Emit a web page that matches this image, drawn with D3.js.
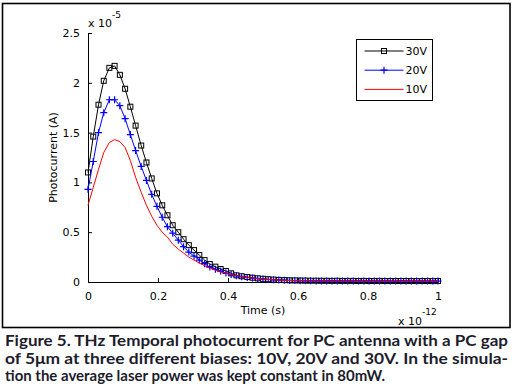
<!DOCTYPE html>
<html lang="en">
<head>
   <meta charset="UTF-8">
   <title>THz Temporal photocurrent</title>
   <style>
      html, body {
         margin: 0;
         padding: 0;
         background: #fff;
         overflow: hidden;
      }
      text {
         font-family: 'DejaVu Sans', sans-serif;
         font-size: 11px;
         fill: #000;
      }
      .caption {
         font-family: Lato, 'DejaVu Sans', sans-serif;
         font-weight: bold;
         font-size: 15px;
         fill: #1c1c2c;
      }
   </style>
   <script src="https://cdn.jsdelivr.net/npm/d3@7"></script>
</head>
<body>
   <svg id="chart" width="512" height="387"></svg>
   <script>
      // time axis (units of 1e-12 s)
      const time = [0, 0.015, 0.030, 0.045, 0.061, 0.076, 0.091, 0.106, 0.121, 0.136,
         0.152, 0.167, 0.182, 0.197, 0.212, 0.227, 0.242, 0.258, 0.273, 0.288,
         0.303, 0.318, 0.333, 0.348, 0.364, 0.379, 0.394, 0.409, 0.424, 0.439,
         0.455, 0.470, 0.485, 0.500, 0.515, 0.530, 0.545, 0.561, 0.576, 0.591,
         0.606, 0.621, 0.636, 0.652, 0.667, 0.682, 0.697, 0.712, 0.727, 0.742,
         0.758, 0.773, 0.788, 0.803, 0.818, 0.833, 0.848, 0.864, 0.879, 0.894,
         0.909, 0.924, 0.939, 0.955, 0.970, 0.985, 1]

      // photocurrent (units of 1e-5 A)
      const bias30 = [1.10, 1.46, 1.78, 2.02, 2.15, 2.17, 2.08, 1.94, 1.76, 1.57,
         1.37, 1.20, 1.04, 0.89, 0.77, 0.67, 0.57, 0.50, 0.43, 0.37,
         0.32, 0.27, 0.22, 0.18, 0.154, 0.13, 0.11, 0.087, 0.067, 0.058,
         0.050, 0.043, 0.037, 0.032, 0.028, 0.024, 0.021, 0.019, 0.017, 0.016,
         0.015, 0.014, 0.013, 0.013, 0.012, 0.012, 0.011, 0.012, 0.011, 0.011,
         0.011, 0.010, 0.011, 0.010, 0.010, 0.011, 0.010, 0.010, 0.010, 0.010,
         0.010, 0.010, 0.009, 0.010, 0.010, 0.009, 0.010]

      const bias20 = [0.93, 1.21, 1.50, 1.70, 1.83, 1.83, 1.77, 1.64, 1.48, 1.32,
         1.16, 1.02, 0.88, 0.76, 0.65, 0.555, 0.49, 0.42, 0.355, 0.30,
         0.26, 0.22, 0.184, 0.15, 0.128, 0.11, 0.09, 0.075, 0.062, 0.052,
         0.045, 0.039, 0.033, 0.029, 0.025, 0.022, 0.019, 0.017, 0.015, 0.014,
         0.013, 0.012, 0.012, 0.011, 0.011, 0.010, 0.011, 0.010, 0.010, 0.010,
         0.010, 0.010, 0.009, 0.010, 0.010, 0.009, 0.010, 0.010, 0.009, 0.010,
         0.010, 0.009, 0.010, 0.009, 0.010, 0.010, 0.009]

      const bias10 = [0.77, 0.95, 1.13, 1.30, 1.40, 1.43, 1.41, 1.35, 1.22, 1.05,
         0.90, 0.77, 0.66, 0.57, 0.50, 0.45, 0.38, 0.33, 0.29, 0.25,
         0.22, 0.19, 0.165, 0.14, 0.12, 0.10, 0.088, 0.075, 0.065, 0.055,
         0.047, 0.040, 0.034, 0.029, 0.025, 0.022, 0.019, 0.017, 0.015, 0.013,
         0.012, 0.011, 0.011, 0.010, 0.010, 0.010, 0.009, 0.010, 0.009, 0.009,
         0.009, 0.009, 0.009, 0.008, 0.009, 0.009, 0.008, 0.009, 0.009, 0.008,
         0.009, 0.008, 0.009, 0.008, 0.008, 0.009, 0.008]

      const xTicks = [0, 0.2, 0.4, 0.6, 0.8, 1]
      const yTicks = [0, 0.5, 1, 1.5, 2, 2.5]

      const legendLabels = ['30V', '20V', '10V']

      const caption = [
         'Figure 5. THz Temporal photocurrent for PC antenna with a PC gap',
         'of 5\u03bcm at three different biases: 10V, 20V and 30V. In the simula-',
         'tion the average laser power was kept constant in 80mW.'
      ]

      const svg = d3.select('#chart')

      // figure frame
      svg.append('rect')
         .attr('x', 2.5)
         .attr('y', 3.5)
         .attr('width', 507.5)
         .attr('height', 324)
         .attr('fill', 'none')
         .attr('stroke', '#000')
         .attr('stroke-width', 1.6)

      // scales
      const xScale = d3.scaleLinear().domain([0, 1]).range([88, 438])
      const yScale = d3.scaleLinear().domain([0, 2.5]).range([282, 33])

      // axes (matlab style, ticks pointing in)
      const xAxis = d3.axisBottom(xScale)
         .tickValues(xTicks)
         .tickSizeInner(-4)
         .tickSizeOuter(0)
         .tickPadding(10)
         .tickFormat(d3.format('~g'))

      const yAxis = d3.axisLeft(yScale)
         .tickValues(yTicks)
         .tickSizeInner(-4)
         .tickSizeOuter(0)
         .tickPadding(8)
         .tickFormat(d3.format('~g'))

      const xAxisGroup = svg.append('g')
         .attr('transform', 'translate(0, 282)')
         .call(xAxis)

      const yAxisGroup = svg.append('g')
         .attr('transform', 'translate(88, 0)')
         .call(yAxis)

      svg.selectAll('.domain').attr('stroke', '#000')
      svg.selectAll('.tick line').attr('stroke', '#000')
      svg.selectAll('.tick text')
         .attr('font-family', 'DejaVu Sans, sans-serif')
         .attr('font-size', 11)
         .attr('fill', '#000')

      // axis labels
      svg.append('text')
         .attr('x', xScale(0.5))
         .attr('y', 314)
         .attr('text-anchor', 'middle')
         .text('Time (s)')

      svg.append('text')
         .attr('transform', `translate(57, ${yScale(1.25)}) rotate(-90)`)
         .attr('text-anchor', 'middle')
         .text('Photocurrent (A)')

      // exponent labels
      const yExp = svg.append('text')
         .attr('x', 88)
         .attr('y', 27)
      yExp.append('tspan').text('x 10')
      yExp.append('tspan').attr('dy', -9).attr('font-size', 9).text('-5')

      const xExp = svg.append('text')
         .attr('x', 398)
         .attr('y', 325)
      xExp.append('tspan').text('x 10')
      xExp.append('tspan').attr('dy', -10).attr('font-size', 9).text('-12')

      // series
      const series = [
         { label: legendLabels[0], values: bias30, color: '#000', marker: 'square' },
         { label: legendLabels[1], values: bias20, color: '#0000ff', marker: 'plus' },
         { label: legendLabels[2], values: bias10, color: '#ff0000', marker: 'none' }
      ]

      const line = d3.line()
         .x((d, i) => xScale(time[i]))
         .y(d => yScale(d))

      function drawMarker(g, type, color) {
         if (type === 'square') {
            g.append('rect')
               .attr('x', -2.5).attr('y', -2.5)
               .attr('width', 5).attr('height', 5)
               .attr('fill', 'none')
               .attr('stroke', color)
               .attr('stroke-width', 1)
         } else if (type === 'plus') {
            g.append('path')
               .attr('d', 'M-3.5,0H3.5M0,-3.5V3.5')
               .attr('stroke', color)
               .attr('stroke-width', 1.2)
         }
      }

      const plot = svg.append('g')

      series.forEach(s => {
         plot.append('path')
            .datum(s.values)
            .attr('d', line)
            .attr('fill', 'none')
            .attr('stroke', s.color)
            .attr('stroke-width', 1)

         if (s.marker !== 'none') {
            plot.append('g').selectAll('g')
               .data(s.values)
               .enter()
               .append('g')
               .attr('transform', (d, i) => `translate(${xScale(time[i])}, ${yScale(d)})`)
               .each(function () { drawMarker(d3.select(this), s.marker, s.color) })
         }
      })

      // legend
      const legend = svg.append('g').attr('transform', 'translate(356.5, 39.5)')

      legend.append('rect')
         .attr('width', 76)
         .attr('height', 61)
         .attr('fill', '#fff')
         .attr('stroke', '#000')

      series.forEach((s, i) => {
         const y = 11.5 + i * 19.2
         legend.append('line')
            .attr('x1', 8).attr('x2', 47)
            .attr('y1', y).attr('y2', y)
            .attr('stroke', s.color)
            .attr('stroke-width', 1)
         const m = legend.append('g').attr('transform', `translate(27.5, ${y})`)
         drawMarker(m, s.marker, s.color)
         legend.append('text')
            .attr('x', 49)
            .attr('y', y + 4)
            .text(s.label)
      })

      // caption
      svg.selectAll('.caption')
         .data(caption)
         .enter()
         .append('text')
         .attr('class', 'caption')
         .attr('x', 5)
         .attr('y', (d, i) => 346 + i * 17.5)
         .attr('textLength', (d, i) => i < 2 ? 503 : 380)
         .attr('lengthAdjust', 'spacingAndGlyphs')
         .text(d => d)
   </script>
</body>
</html>
